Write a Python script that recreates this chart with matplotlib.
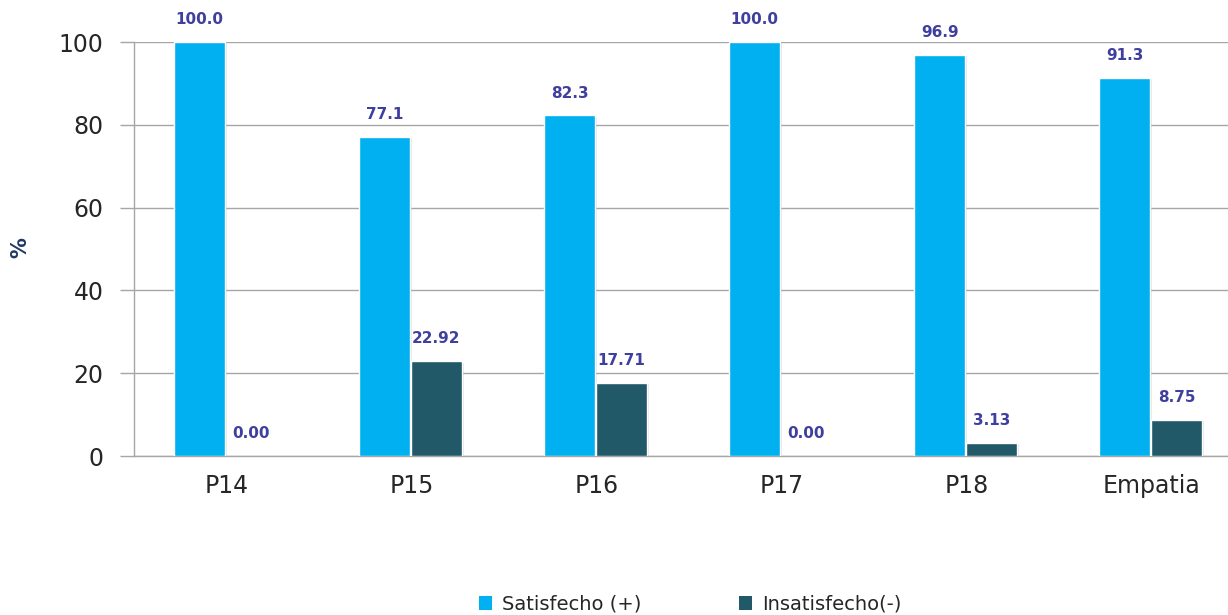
import matplotlib
matplotlib.use("Agg")
import matplotlib.pyplot as plt
import matplotlib.patheffects as pe
from matplotlib.patches import Patch
import numpy as np

categories = ["P14", "P15", "P16", "P17", "P18", "Empatia"]
satisfecho = [100.0, 77.1, 82.3, 100.0, 96.9, 91.3]
insatisfecho = [0.00, 22.92, 17.71, 0.00, 3.13, 8.75]
sat_labels = ["100.0", "77.1", "82.3", "100.0", "96.9", "91.3"]
ins_labels = ["0.00", "22.92", "17.71", "0.00", "3.13", "8.75"]
yticks = [0, 20, 40, 60, 80, 100]
series_names = ["Satisfecho (+)", "Insatisfecho(-)"]

c_sat = "#00B0F0"
c_ins = "#215968"
c_lab = "#3F3F9F"
c_grid = "#A6A6A6"

plt.rcParams['font.family'] = ['DejaVu Sans']

fig = plt.figure(figsize=(12.28, 6.15), dpi=100)
ax = fig.add_axes([134/1228, 1-456/615, 1.0-134/1228, (456-42)/615])

x = np.arange(len(categories))
w = 0.275
shadow = [pe.SimplePatchShadow(offset=(1.5, -1), shadow_rgbFace="#aaaaaa", alpha=0.3), pe.Normal()]
b1 = ax.bar(x - 0.145, satisfecho, w, color=c_sat, edgecolor="white", linewidth=1.0,
            zorder=3, path_effects=shadow)
b2 = ax.bar(x + 0.135, insatisfecho, w, color=c_ins, edgecolor="white", linewidth=1.0,
            zorder=3, path_effects=shadow)
for rect in list(b1) + list(b2):
    if rect.get_height() == 0:
        rect.set_visible(False)

for bars, labels in ((b1, sat_labels), (b2, ins_labels)):
    for rect, lab in zip(bars, labels):
        ax.annotate(lab, (rect.get_x() + rect.get_width()/2, rect.get_height()),
                    xytext=(0, 16), textcoords="offset points", ha="center", va="center",
                    fontsize=11, fontweight="bold", color=c_lab, zorder=5)

ax.set_ylim(0, 100)
ax.set_xlim(-0.5, 5.5 - 16/185)
ax.set_yticks(yticks)
ax.set_yticklabels([str(t) for t in yticks], fontsize=17, color="#262626")
ax.set_xticks(x)
ax.set_xticklabels(categories, fontsize=17, color="#262626")
ax.tick_params(axis="x", length=0, pad=13)
ax.tick_params(axis="y", length=10, color=c_grid, width=1.0, pad=12)
ax.yaxis.grid(True, color=c_grid, linewidth=1.0, zorder=0)
ax.set_axisbelow(True)
for s in ["top", "right"]:
    ax.spines[s].set_visible(False)
ax.spines["left"].set_color(c_grid)
ax.spines["left"].set_linewidth(1.0)
ax.spines["bottom"].set_color(c_grid)
ax.spines["bottom"].set_linewidth(1.0)

fig.text(20/1228, 1-248/615, "%", rotation=90, fontsize=15, fontweight="bold",
         color="#1F3864", ha="center", va="center")

handles = [Patch(facecolor=c_sat), Patch(facecolor=c_ins)]
fig.legend(handles=handles, labels=series_names, loc="center", bbox_to_anchor=(690/1228, 1-604/615),
           ncol=2, frameon=False, fontsize=14, handlelength=0.7, handleheight=0.7,
           columnspacing=5, handletextpad=0.5, labelcolor="#262626")

fig.savefig("out.png", dpi=100)
